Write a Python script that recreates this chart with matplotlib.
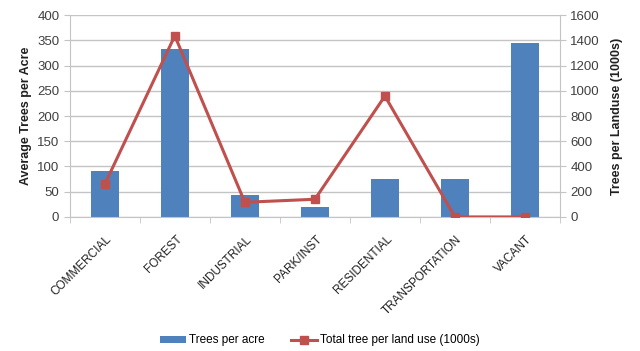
import numpy as np
import matplotlib
matplotlib.use("Agg")
import matplotlib.pyplot as plt
import matplotlib.transforms as mtransforms

plt.rcParams['font.family'] = ['Liberation Sans', 'DejaVu Sans']

categories = ["COMMERCIAL", "FOREST", "INDUSTRIAL", "PARK/INST",
              "RESIDENTIAL", "TRANSPORTATION", "VACANT"]
trees_per_acre = [91, 333, 44, 19, 76, 76, 345]
total_trees_1000s = [259, 1436, 116, 140, 958, 0, 0]

bar_color = "#4F81BD"
line_color = "#C0504D"
grid_color = "#C4C4C4"
text_color = "#404040"

fig = plt.figure(figsize=(6.4, 3.51), dpi=100)
ax = fig.add_axes([0.109, 0.382, 0.766, 0.575])
x = np.arange(len(categories))

ax.bar(x, trees_per_acre, width=0.4, color=bar_color, zorder=2,
       label="Trees per acre")
ax.set_ylim(0, 400)
ax.set_yticks(range(0, 401, 50))
ax.set_xlim(-0.5, len(categories) - 0.5)
ax.yaxis.grid(True, color=grid_color, linewidth=1, zorder=0)
ax.set_axisbelow(True)

ax.set_xticks(x)
ax.set_xticklabels(categories, rotation=45, ha="right", rotation_mode="anchor",
                   fontsize=8.5, color="#202020")
ax.tick_params(axis="x", length=0, pad=6)
shift = mtransforms.ScaledTranslation(0.01, -0.08, fig.dpi_scale_trans)
for lbl in ax.get_xticklabels():
    lbl.set_transform(lbl.get_transform() + shift)
# boundary ticks between categories
ax.set_xticks(np.arange(-0.5, len(categories), 1), minor=True)
ax.tick_params(axis="x", which="minor", length=4, color=grid_color)
ax.tick_params(axis="y", length=4, color=grid_color, labelsize=9.5,
               labelcolor=text_color)
ax.set_ylabel("Average Trees per Acre", fontsize=9, fontweight="bold",
              color="#202020")

for s in ["top", "right"]:
    ax.spines[s].set_visible(False)
for s in ["left", "bottom"]:
    ax.spines[s].set_color(grid_color)

ax2 = ax.twinx()
ax2.plot(x, total_trees_1000s, color=line_color, linewidth=2.2, marker="s",
         markersize=6, zorder=3, label="Total tree per land use (1000s)")
ax2.set_ylim(0, 1600)
ax2.set_yticks(range(0, 1601, 200))
ax2.tick_params(axis="y", length=4, color=grid_color, labelsize=9.5,
                labelcolor=text_color)
ax2.set_ylabel("Trees per Landuse (1000s)", fontsize=9, fontweight="bold",
               color="#202020", labelpad=8)
for s in ["top", "left", "bottom"]:
    ax2.spines[s].set_visible(False)
ax2.spines["right"].set_color(grid_color)

h1, l1 = ax.get_legend_handles_labels()
h2, l2 = ax2.get_legend_handles_labels()
fig.legend(h1 + h2, l1 + l2, loc="center", bbox_to_anchor=(0.5, 0.03),
           ncol=2, frameon=False, fontsize=8.5, handlelength=2.2,
           handleheight=0.5, handletextpad=0.3, columnspacing=2.2)

fig.savefig("out.png", dpi=100)
